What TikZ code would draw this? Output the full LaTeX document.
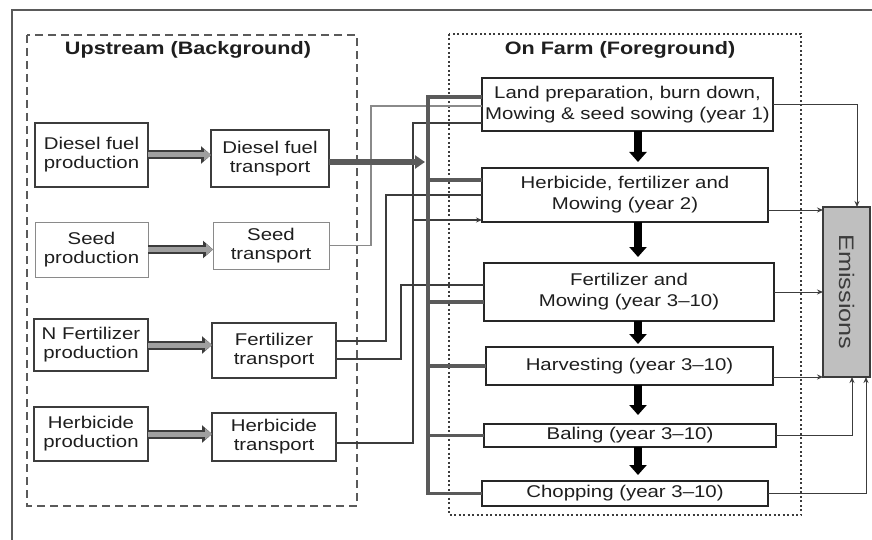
\documentclass[tikz,border=0pt]{standalone}
\usepackage{fontspec}
\setmainfont{Liberation Sans}[FakeStretch=1.2]
\usetikzlibrary{arrows.meta}
\definecolor{lc}{HTML}{3C3C3C}
\definecolor{gl}{HTML}{8A8A8A}
\definecolor{busc}{HTML}{5A5A5A}
\definecolor{emfill}{HTML}{BFBFBF}
\definecolor{txt}{HTML}{1E1E1E}
\begin{document}
\begin{tikzpicture}[x=1pt,y=-1pt,
  every node/.style={text=txt},
  ubox/.style={draw=lc, line width=1.3pt, rectangle, anchor=north west, inner sep=1pt, outer sep=0pt, align=center, font=\fontsize{17}{19}\selectfont},
  heavybox/.style={ubox, line width=2.6pt},
  seedbox/.style={ubox, line width=1pt, draw=gl},
  farmbox/.style={ubox, line width=1.6pt, draw=black!85, font=\fontsize{17}{21}\selectfont},
  ttl/.style={font=\bfseries\fontsize{18}{20}\selectfont},
  conn/.style={draw=lc, line width=1.1pt},
  seedln/.style={draw=gl, line width=1.1pt},
  busln/.style={draw=busc, line width=3.2pt},
  emarr/.style={draw=lc, line width=1pt, -{Stealth[length=6pt,width=5pt]}},
  prodarr/.style={draw=gray!75, line width=5pt, -{Triangle[length=7pt,width=11pt]}, preaction={draw=lc, line width=9pt, -{Triangle[length=10pt,width=17pt]}}},
  downarr/.style={draw=black, line width=8pt, -{Triangle[length=10pt,width=17pt]}, shorten >=6pt},
]
\useasboundingbox (0,0) rectangle (872,540);
% outer frame
\draw[draw=busc, line width=1.5pt] (12,540) -- (12,10) -- (872,10);
% group boxes
\draw[draw=busc, line width=1.4pt, dash pattern=on 8pt off 5pt] (27,35) rectangle (357,506);
\draw[draw=lc, line width=1.5pt, dash pattern=on 2pt off 2.5pt] (449,34) rectangle (801,515);
\node[ttl] (t1) at (188,50) {Upstream (Background)};
\node[ttl] (t2) at (620,50) {On Farm (Foreground)};

% upstream nodes
\node[heavybox, minimum width=113pt, minimum height=64pt] (dp) at (35,123) {Diesel fuel\\production};
\node[heavybox, minimum width=118pt, minimum height=57pt] (dt) at (211,130) {Diesel fuel\\transport};
\node[seedbox, minimum width=113pt, minimum height=55pt] (sp) at (35,222) {Seed\\production};
\node[seedbox, minimum width=116pt, minimum height=47pt] (st) at (213,222) {Seed\\transport};
\node[ubox, minimum width=114pt, minimum height=52pt] (fp) at (34,319) {N Fertilizer\\production};
\node[ubox, minimum width=124pt, minimum height=55pt] (ft) at (212,323) {Fertilizer\\transport};
\node[ubox, minimum width=114pt, minimum height=54pt] (hp) at (34,407) {Herbicide\\production};
\node[ubox, minimum width=124pt, minimum height=48pt] (ht) at (212,413) {Herbicide\\transport};

% farm nodes
\node[farmbox, minimum width=291pt, minimum height=53pt] (f1) at (482,78) {Land preparation, burn down,\\Mowing \& seed sowing (year 1)};
\node[farmbox, minimum width=286pt, minimum height=54pt] (f2) at (482,168) {Herbicide, fertilizer and\\Mowing (year 2)};
\node[farmbox, minimum width=290pt, minimum height=58pt] (f3) at (484,263) {Fertilizer and\\Mowing (year 3–10)};
\node[farmbox, minimum width=287pt, minimum height=38pt] (f4) at (486,347) {Harvesting (year 3–10)};
\node[farmbox, minimum width=292pt, minimum height=23pt] (f5) at (484,424) {Baling (year 3–10)};
\node[farmbox, minimum width=286pt, minimum height=25pt] (f6) at (482,481) {Chopping (year 3–10)};

% emissions
\node[draw=lc, line width=1.3pt, fill=emfill, anchor=north west, minimum width=47pt, minimum height=170pt, inner sep=0pt, outer sep=0pt] (em) at (823,207) {};
\node[rotate=-90, font=\fontsize{21}{21}\selectfont, text=lc] (emt) at (em.center) {Emissions};

% helper coordinates
\coordinate (bx) at (428,0);
\coordinate (ax) at (638,0);
\coordinate (yb1) at (0,97);
\coordinate (yb2) at (0,180);
\coordinate (yb3) at (0,302);
\coordinate (sxc) at (371,106);
\coordinate (hy) at (0,443);
\coordinate (hxc) at (413,123);
\coordinate (hb) at (0,220);
\coordinate (fy1) at (0,341);
\coordinate (fxc1) at (386,195);
\coordinate (fy2) at (0,359);
\coordinate (fxc2) at (401,285);
\coordinate (dy) at (0,162);
\coordinate (ey2) at (0,210);
\coordinate (ex1) at (857,0);
\coordinate (ex5) at (852,0);
\coordinate (ex6) at (866,0);

% production -> transport arrows
\draw[prodarr] (dp.east) -- (dt.west |- dp.east);
\draw[prodarr] (sp.east) -- (st.west |- sp.east);
\draw[prodarr] (fp.east) -- (ft.west |- fp.east);
\draw[prodarr] (hp.east) -- (ht.west |- hp.east);

% thin input lines
\draw[seedln] (st.east) -| (sxc) -- (f1.west |- sxc);
\draw[conn] (ht.east |- hy) -| (hxc) -- (f1.west |- hxc);
\draw[conn, -{Stealth[length=6pt,width=5pt]}] (hxc |- hb) -- (f2.west |- hb);
\draw[conn] (ft.east |- fy1) -| (fxc1) -- (f2.west |- fxc1);
\draw[conn] (ft.east |- fy2) -| (fxc2) -- (f3.west |- fxc2);

% diesel bus
\draw[busln] (f1.west |- yb1) -- (bx |- yb1) -- (bx |- f6.west) -- (f6.west);
\draw[busln] (bx |- yb2) -- (f2.west |- yb2);
\draw[busln] (bx |- yb3) -- (f3.west |- yb3);
\draw[busln] (bx |- f4.west) -- (f4.west);
\draw[busln] (bx |- f5.west) -- (f5.west);
\draw[busln, line width=6pt, -{Triangle[length=10pt,width=13pt]}, shorten >=3pt] (dt.east |- dy) -- (bx |- dy);

% sequence arrows
\draw[downarr] (ax |- f1.south) -- (ax |- f2.north);
\draw[downarr] (ax |- f2.south) -- (ax |- f3.north);
\draw[downarr, shorten >=3pt] (ax |- f3.south) -- (ax |- f4.north);
\draw[downarr, shorten >=9pt] (ax |- f4.south) -- (ax |- f5.north);
\draw[downarr] (ax |- f5.south) -- (ax |- f6.north);

% emissions arrows
\draw[emarr] (f1.east) -| (ex1 |- em.north);
\draw[emarr] (f2.east |- ey2) -- (em.west |- ey2);
\draw[emarr] (f3.east) -- (em.west |- f3.east);
\draw[emarr] (f4.east |- em.south) -- (em.south west);
\draw[emarr] (f5.east) -| (ex5 |- em.south);
\draw[emarr] (f6.east) -| (ex6 |- em.south);
\end{tikzpicture}
\end{document}
